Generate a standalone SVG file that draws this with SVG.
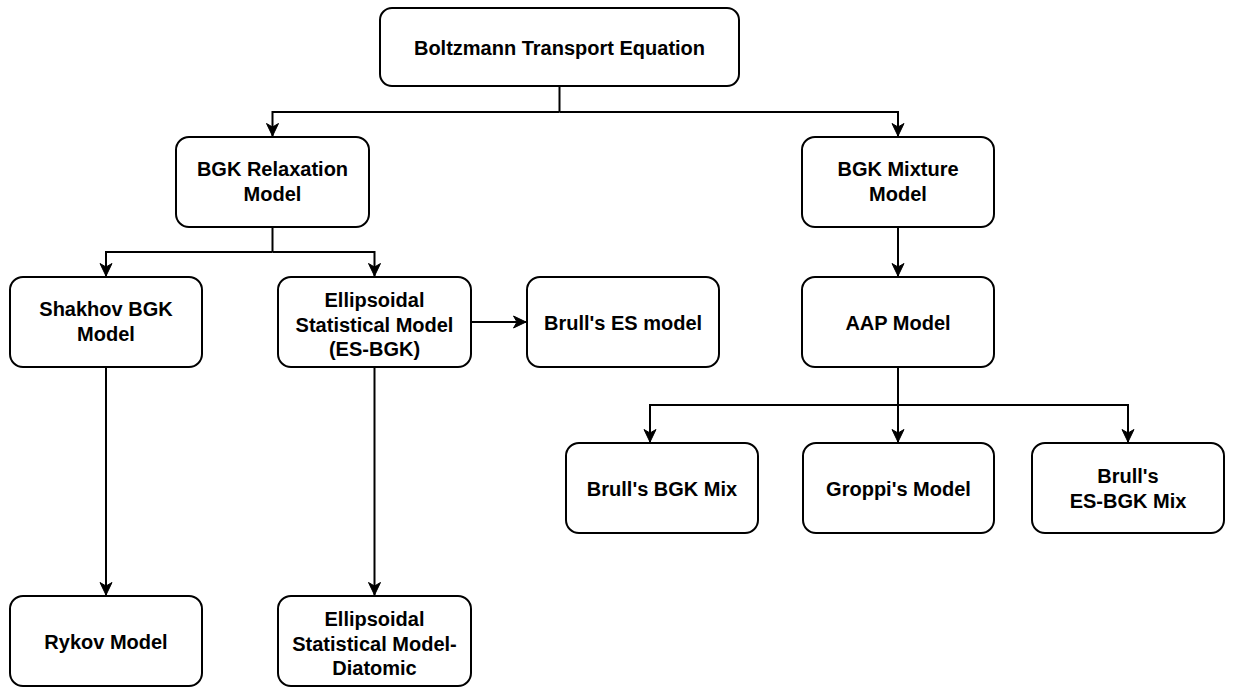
<svg xmlns="http://www.w3.org/2000/svg" width="1235" height="687" viewBox="0 0 1235 687">
<style>
.box{fill:#fff;stroke:#000;stroke-width:2}
.t{font-family:"Liberation Sans",Arial,Helvetica,sans-serif;font-weight:bold;font-size:20px;fill:#000;text-anchor:middle}
.c{fill:none;stroke:#000;stroke-width:2}
</style>
<defs>
<marker id="arr" viewBox="0 0 14 14" refX="13" refY="7" markerWidth="14" markerHeight="14" markerUnits="userSpaceOnUse" orient="auto">
<path d="M0.5,1 L13,7 L0.5,13 L4,7 Z" fill="#000" stroke="#000" stroke-width="1"/>
</marker>
</defs>
<rect width="1235" height="687" fill="#fff"/>
<g id="connectors">
<path class="c" d="M559.5,86 V112"/>
<path class="c" d="M559.5,112 H272.5 V136" marker-end="url(#arr)"/>
<path class="c" d="M559.5,112 H898 V136" marker-end="url(#arr)"/>
<path class="c" d="M272.5,227 V252"/>
<path class="c" d="M272.5,252 H106 V276" marker-end="url(#arr)"/>
<path class="c" d="M272.5,252 H374.5 V276" marker-end="url(#arr)"/>
<path class="c" d="M471,322 H526" marker-end="url(#arr)"/>
<path class="c" d="M898,227 V276" marker-end="url(#arr)"/>
<path class="c" d="M898,367 V442" marker-end="url(#arr)"/>
<path class="c" d="M898,405 H650 V442" marker-end="url(#arr)"/>
<path class="c" d="M898,405 H1128 V442" marker-end="url(#arr)"/>
<path class="c" d="M106,367 V595" marker-end="url(#arr)"/>
<path class="c" d="M374.5,367 V595" marker-end="url(#arr)"/>
</g>
<g id="bte"><rect class="box" x="380" y="8" width="359" height="78" rx="12"/><text class="t" x="559.5" y="55">Boltzmann Transport Equation</text></g>
<g id="bgk-relaxation"><rect class="box" x="176" y="137" width="193" height="90" rx="13"/><text class="t" x="272.5" y="176">BGK Relaxation</text><text class="t" x="272.5" y="201">Model</text></g>
<g id="bgk-mixture"><rect class="box" x="802" y="137" width="192" height="90" rx="13"/><text class="t" x="898" y="176">BGK Mixture</text><text class="t" x="898" y="201">Model</text></g>
<g id="shakhov"><rect class="box" x="10" y="277" width="192" height="90" rx="13"/><text class="t" x="106" y="316">Shakhov BGK</text><text class="t" x="106" y="341">Model</text></g>
<g id="es-bgk"><rect class="box" x="278" y="277" width="193" height="90" rx="13"/><text class="t" x="374.5" y="307">Ellipsoidal</text><text class="t" x="374.5" y="331.5">Statistical Model</text><text class="t" x="374.5" y="356">(ES-BGK)</text></g>
<g id="brull-es"><rect class="box" x="527" y="277" width="192" height="90" rx="13"/><text class="t" x="623" y="330">Brull's ES model</text></g>
<g id="aap"><rect class="box" x="802" y="277" width="192" height="90" rx="13"/><text class="t" x="898" y="330">AAP Model</text></g>
<g id="brull-bgk-mix"><rect class="box" x="566" y="443" width="192" height="90" rx="13"/><text class="t" x="662" y="496">Brull's BGK Mix</text></g>
<g id="groppi"><rect class="box" x="803" y="443" width="191" height="90" rx="13"/><text class="t" x="898.5" y="496">Groppi's Model</text></g>
<g id="brull-es-bgk-mix"><rect class="box" x="1032" y="443" width="192" height="90" rx="13"/><text class="t" x="1128" y="483">Brull's</text><text class="t" x="1128" y="508">ES-BGK Mix</text></g>
<g id="rykov"><rect class="box" x="10" y="596" width="192" height="90" rx="13"/><text class="t" x="106" y="649">Rykov Model</text></g>
<g id="es-diatomic"><rect class="box" x="278" y="596" width="193" height="90" rx="13"/><text class="t" x="374.5" y="626">Ellipsoidal</text><text class="t" x="374.5" y="651">Statistical Model-</text><text class="t" x="374.5" y="675">Diatomic</text></g>
</svg>
